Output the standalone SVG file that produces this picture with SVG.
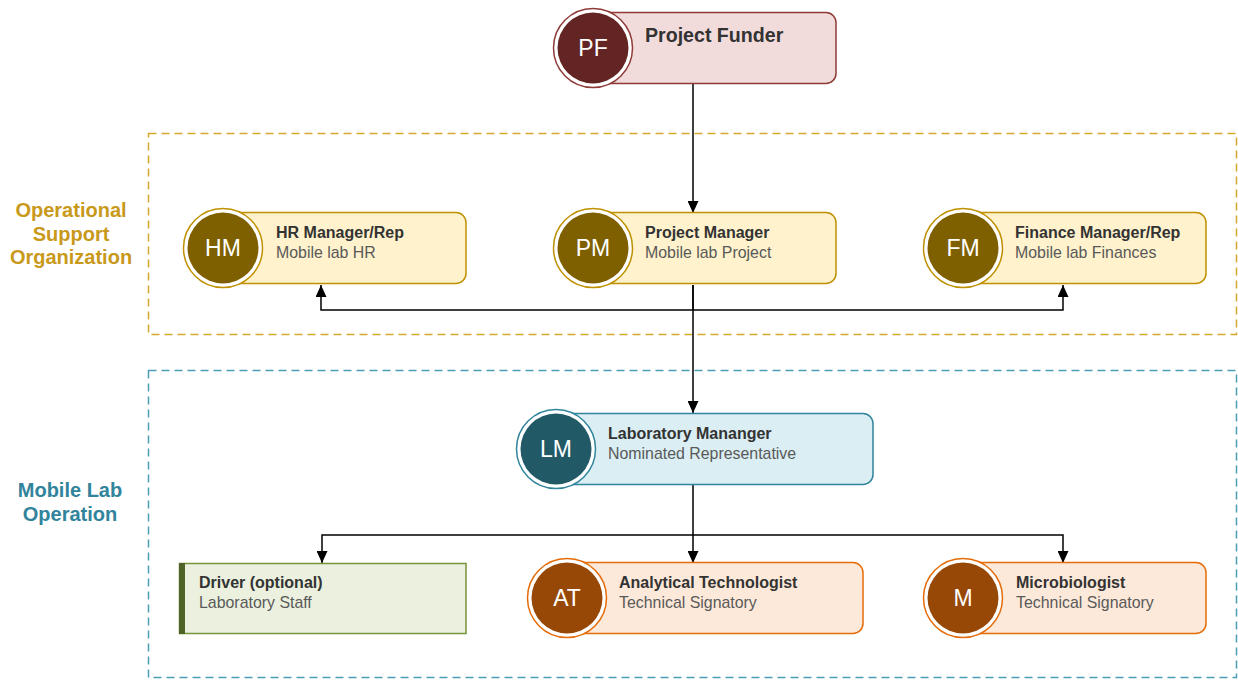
<svg xmlns="http://www.w3.org/2000/svg" width="1238" height="680" viewBox="0 0 1238 680">
  <style>
    text { font-family: "Liberation Sans", Arial, sans-serif; }
    .title { font-size: 16px; font-weight: bold; fill: #333333; }
    .sub { font-size: 15.9px; fill: #595959; }
    .ini { font-size: 23px; fill: #ffffff; text-anchor: middle; }
    .lane { font-size: 20px; font-weight: bold; text-anchor: middle; }
    .wire { fill: none; stroke: #000000; stroke-width: 1.5; }
    .ring { fill: #ffffff; stroke-width: 1.5; }
    .card { stroke-width: 1.5; }
    .funder .card { fill: #f2dcdb; stroke: #8e3b38; }
    .funder .ring { stroke: #8e3b38; }
    .funder .dot { fill: #632523; }
    .support .card { fill: #fff2cc; stroke: #bf9000; }
    .support .ring { stroke: #bf9000; }
    .support .dot { fill: #7f6000; }
    .lab .card { fill: #daeef3; stroke: #31859c; }
    .lab .ring { stroke: #31859c; }
    .lab .dot { fill: #215967; }
    .tech .card { fill: #fde9d9; stroke: #e46c0a; }
    .tech .ring { stroke: #e46c0a; }
    .tech .dot { fill: #974806; }
  </style>
  <defs>
    <marker id="arrow" viewBox="0 0 12 11" refX="12" refY="5.5" markerWidth="12" markerHeight="11" markerUnits="userSpaceOnUse" orient="auto">
      <path d="M0,0 L12,5.5 L0,11 Z" fill="#000000"/>
    </marker>
  </defs>

  <!-- swimlanes -->
  <g id="lane-operational">
    <rect x="148.5" y="133.5" width="1088" height="201" fill="none" stroke="#d4a82c" stroke-width="1.5" stroke-dasharray="8,5"/>
    <text class="lane" fill="#c8991a" x="71" y="217">Operational</text>
    <text class="lane" fill="#c8991a" x="71" y="241">Support</text>
    <text class="lane" fill="#c8991a" x="71" y="264">Organization</text>
  </g>
  <g id="lane-mobile">
    <rect x="148.5" y="370.5" width="1088" height="307" fill="none" stroke="#4a9fb4" stroke-width="1.5" stroke-dasharray="8,5"/>
    <text class="lane" fill="#31849b" x="70" y="497">Mobile Lab</text>
    <text class="lane" fill="#31849b" x="70" y="521">Operation</text>
  </g>

  <!-- connectors -->
  <g id="connectors">
    <path class="wire" d="M693,84 L693,213" marker-end="url(#arrow)"/>
    <path class="wire" d="M693,285 L693,310 L321,310 L321,285" marker-end="url(#arrow)"/>
    <path class="wire" d="M693,310 L1063,310 L1063,285" marker-end="url(#arrow)"/>
    <path class="wire" d="M693,285 L693,413" marker-end="url(#arrow)"/>
    <path class="wire" d="M693,485 L693,535 L322,535 L322,563" marker-end="url(#arrow)"/>
    <path class="wire" d="M693,535 L693,563" marker-end="url(#arrow)"/>
    <path class="wire" d="M693,535 L1063,535 L1063,563" marker-end="url(#arrow)"/>
  </g>

  <!-- Project Funder -->
  <g id="node-pf" class="funder">
    <rect class="card" x="593" y="12.5" width="243" height="71" rx="10"/>
    <circle class="ring" cx="593" cy="48" r="39.5"/>
    <circle class="dot" cx="593" cy="48" r="35.5"/>
    <text class="ini" x="593" y="56">PF</text>
    <text class="title" style="font-size:19.6px" x="645" y="42">Project Funder</text>
  </g>

  <!-- HR Manager -->
  <g id="node-hm" class="support">
    <rect class="card" x="223" y="212.5" width="243" height="71" rx="10"/>
    <circle class="ring" cx="223" cy="248" r="39.5"/>
    <circle class="dot" cx="223" cy="248" r="35.5"/>
    <text class="ini" x="223" y="256">HM</text>
    <text class="title" x="276" y="238">HR Manager/Rep</text>
    <text class="sub" x="276" y="258">Mobile lab HR</text>
  </g>

  <!-- Project Manager -->
  <g id="node-pm" class="support">
    <rect class="card" x="593" y="212.5" width="243" height="71" rx="10"/>
    <circle class="ring" cx="593" cy="248" r="39.5"/>
    <circle class="dot" cx="593" cy="248" r="35.5"/>
    <text class="ini" x="593" y="256">PM</text>
    <text class="title" x="645" y="238">Project Manager</text>
    <text class="sub" x="645" y="258">Mobile lab Project</text>
  </g>

  <!-- Finance Manager -->
  <g id="node-fm" class="support">
    <rect class="card" x="963" y="212.5" width="243" height="71" rx="10"/>
    <circle class="ring" cx="963" cy="248" r="39.5"/>
    <circle class="dot" cx="963" cy="248" r="35.5"/>
    <text class="ini" x="963" y="256">FM</text>
    <text class="title" x="1015" y="238">Finance Manager/Rep</text>
    <text class="sub" x="1015" y="258">Mobile lab Finances</text>
  </g>

  <!-- Laboratory Manager -->
  <g id="node-lm" class="lab">
    <rect class="card" x="556" y="413.5" width="317" height="71" rx="10"/>
    <circle class="ring" cx="556" cy="449" r="39.5"/>
    <circle class="dot" cx="556" cy="449" r="35.5"/>
    <text class="ini" x="556" y="457">LM</text>
    <text class="title" x="608" y="439">Laboratory Mananger</text>
    <text class="sub" x="608" y="459">Nominated Representative</text>
  </g>

  <!-- Driver -->
  <g id="node-driver">
    <rect x="179.5" y="563.5" width="286.5" height="70" fill="#ebf1de" stroke="#77933c" stroke-width="1.5"/>
    <rect x="179" y="563" width="6" height="71" fill="#4f6228"/>
    <text class="title" x="199" y="588">Driver (optional)</text>
    <text class="sub" x="199" y="608">Laboratory Staff</text>
  </g>

  <!-- Analytical Technologist -->
  <g id="node-at" class="tech">
    <rect class="card" x="567" y="562.5" width="296" height="71" rx="10"/>
    <circle class="ring" cx="567" cy="598" r="39.5"/>
    <circle class="dot" cx="567" cy="598" r="35.5"/>
    <text class="ini" x="567" y="606">AT</text>
    <text class="title" x="619" y="588">Analytical Technologist</text>
    <text class="sub" x="619" y="608">Technical Signatory</text>
  </g>

  <!-- Microbiologist -->
  <g id="node-m" class="tech">
    <rect class="card" x="963" y="562.5" width="243" height="71" rx="10"/>
    <circle class="ring" cx="963" cy="598" r="39.5"/>
    <circle class="dot" cx="963" cy="598" r="35.5"/>
    <text class="ini" x="963" y="606">M</text>
    <text class="title" x="1016" y="588">Microbiologist</text>
    <text class="sub" x="1016" y="608">Technical Signatory</text>
  </g>
</svg>
